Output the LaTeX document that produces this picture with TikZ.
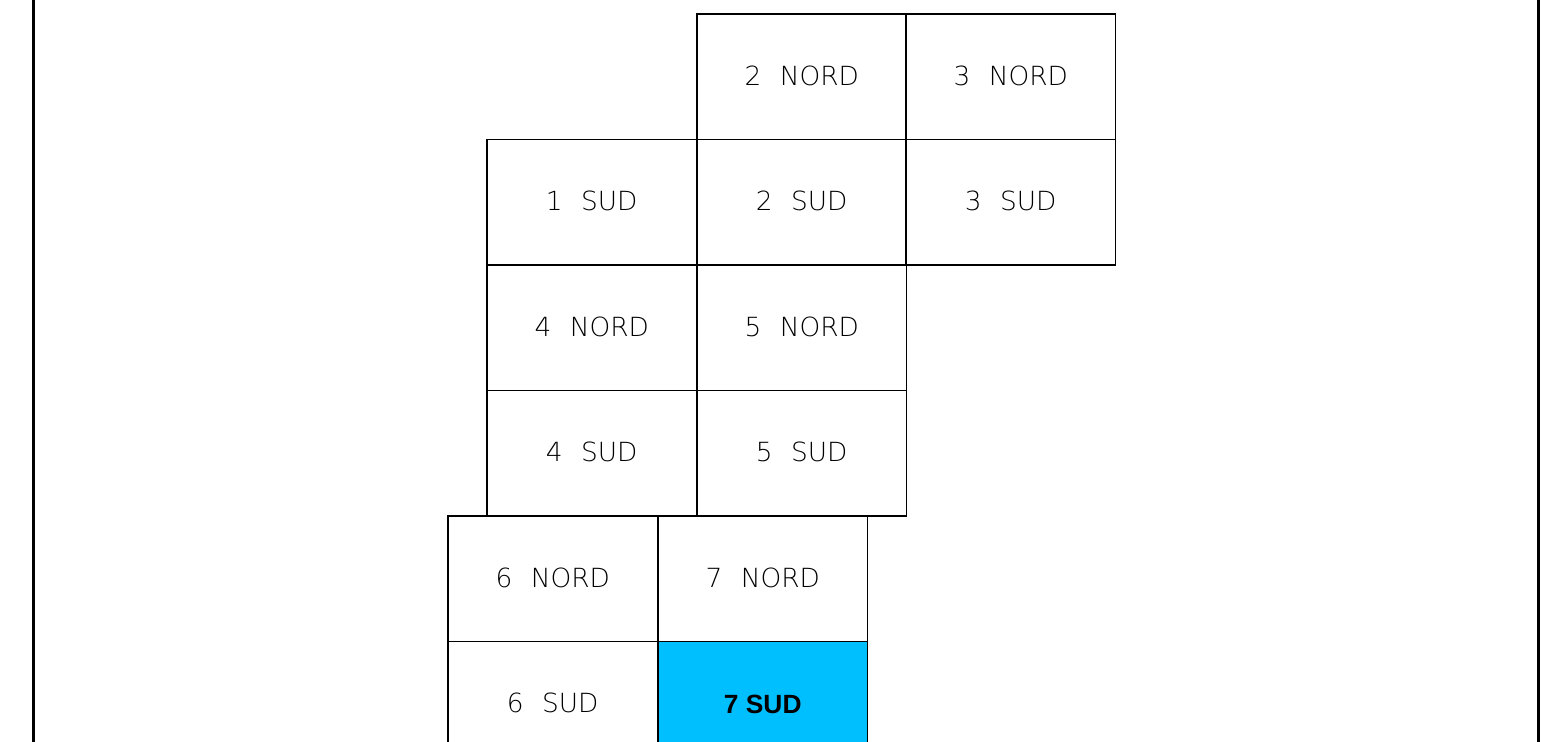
\documentclass[tikz,border=0pt]{standalone}
\usepackage{fontspec}
\newfontfamily\cadfont[WordSpace=2.2]{DejaVu Sans ExtraLight}
\newfontfamily\arialfont{Liberation Sans}
\definecolor{sudblue}{RGB}{0,191,255}
\tikzset{
  cell/.style = {draw = black, line width = 0.8pt, minimum width = 4.19cm, minimum height = 2.51cm, inner sep = 0pt, anchor = center, font = \cadfont\fontsize{15}{18}\selectfont},
  hicell/.style = {cell, fill = sudblue, font = \arialfont\bfseries\fontsize{15}{18}\selectfont}
}
\begin{document}
\begin{tikzpicture}
\pgfmathsetmacro\cw{4.19};
\pgfmathsetmacro\ch{2.51};
\useasboundingbox (0,0) rectangle (30.82,14.84);
\draw [line width = 1.4pt] (0.67,0) -- (0.67,14.84);
\draw [line width = 1.4pt] (30.77,0) -- (30.77,14.84);
\foreach \x/\y/\name/\txt in {16.035/13.305/nord2/2 NORD, 20.215/13.305/nord3/3 NORD, 11.835/10.795/sud1/1 SUD, 16.035/10.795/sud2/2 SUD, 20.215/10.795/sud3/3 SUD, 11.835/8.285/nord4/4 NORD, 16.035/8.285/nord5/5 NORD, 11.835/5.775/sud4/4 SUD, 16.035/5.775/sud5/5 SUD, 11.055/3.265/nord6/6 NORD, 15.255/3.265/nord7/7 NORD, 11.055/0.755/sud6/6 SUD}
  \node [cell] (\name) at (\x,\y) {\raisebox{1.5pt}{\txt}};
\node [hicell] (sud7) at (15.255,0.755) {7 SUD};
\end{tikzpicture}
\end{document}
